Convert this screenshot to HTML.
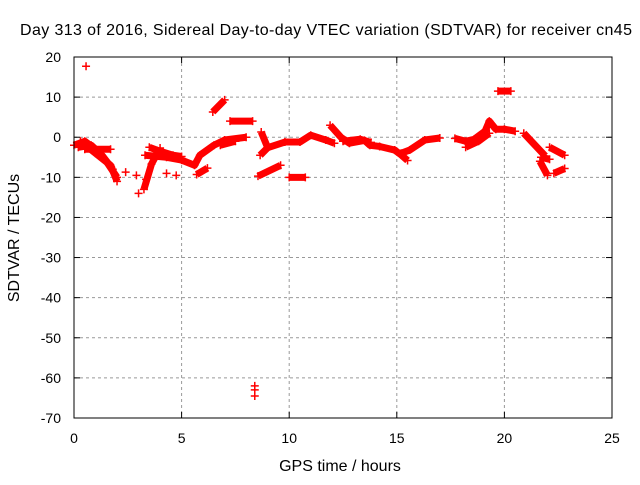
<!DOCTYPE html>
<html><head><meta charset="utf-8"><style>
body{margin:0;background:#fff}
svg text{font-family:"Liberation Sans",sans-serif;font-size:14px;fill:#000}
svg text.big{font-size:16px}
</style></head><body>
<svg id="c" width="640" height="480">
<rect width="640" height="480" fill="#fff"/>
<g id="grid"></g><g id="data"></g><g id="axes"></g>
<text class="big" x="326" y="35" text-anchor="middle" textLength="612">Day 313 of 2016, Sidereal Day-to-day VTEC variation (SDTVAR) for receiver cn45</text>
<text class="big" x="340" y="471" text-anchor="middle">GPS time / hours</text>
<text class="big" transform="translate(19,238) rotate(-90)" text-anchor="middle">SDTVAR / TECUs</text>
</svg>
<script>
const xTicks=[0,5,10,15,20,25];
const yTicks=[20,10,0,-10,-20,-30,-40,-50,-60,-70];
const seg1=[[0,-2],[0.5,-1],[1,-3],[1.5,-6],[2,-10]];
const seg2=[[0.3,-1],[1,-4],[1.7,-7],[2,-11]];
const seg3=[[0.5,-3],[1.7,-3]];
const seg4=[[3.25,-13],[3.6,-6.7],[4,-2.7]];
const seg5=[[3.3,-4.5],[4.3,-5],[5,-5.7],[5.6,-7],[5.85,-4.5],[6.5,-2],[7,-0.7],[8,0]];
const seg6=[[5.7,-9.3],[6.2,-7.7]];
const seg7=[[6.45,6.3],[7,9.3]];
const seg8=[[7.25,4],[8.3,4]];
const seg9=[[8.7,1.3],[9,-2.6],[9.8,-1.2],[10.5,-1.2],[11,0.5],[11.7,-0.7],[12.1,-1.5]];
const seg10=[[8.65,-4.5],[9,-2.6]];
const seg11=[[8.55,-9.7],[9.6,-7]];
const seg12=[[10,-10],[10.75,-10]];
const seg13=[[11.9,3],[12.4,0],[12.8,-1.5],[13.5,-0.8],[13.75,-2],[14.2,-2.3],[14.9,-3.2],[15.2,-4.4],[15.5,-5.8]];
const seg14=[[15.2,-4],[15.6,-3.2],[16.3,-0.7],[17,-0.2]];
const seg15=[[17.7,-0.3],[18.2,-1],[18.6,-0.5],[19.1,1.5],[19.3,4],[19.6,2],[20,2],[20.5,1.5]];
const seg16=[[18.3,-1.5],[18.9,0]];
const seg17=[[19.7,11.5],[20.3,11.5]];
const seg18=[[20.9,1],[21.9,-4.7]];
const seg19=[[21.65,-6],[22,-9.5]];
const seg20=[[22.1,-2.5],[22.8,-4.5]];
const seg21=[[22.3,-9],[22.8,-7.8]];
const seg22=[[21.7,-5],[22.1,-5.5]];
const seg23=[[3.5,-2.5],[4,-3.5],[4.6,-4.5],[5,-4.8]];
const seg24=[[18.2,-2.5],[18.8,-1],[19.3,1]];
const seg25=[[12.5,-1],[13.3,-0.5],[13.8,-1.3]];
const seg26=[[0.2,-2.5],[0.8,-2],[1.3,-4.5],[1.8,-8]];
const seg27=[[6.8,-2],[7.5,-1]];
const segments=[seg1,seg2,seg3,seg4,seg5,seg6,seg7,seg8,seg9,seg10,seg11,seg12,seg13,seg14,seg15,seg16,seg17,seg18,seg19,seg20,seg21,seg22,seg23,seg24,seg25,seg26,seg27];
const pts=[[0.56,17.7],[2.4,-8.7],[2.9,-9.5],[3.0,-14],[3.35,-10.5],[4.3,-9],[4.75,-9.5],[8.4,-62],[8.4,-63],[8.4,-64.5]];
const X0=74,X1=612,Y0=418,Y1=57;
const sx=h=>X0+h/25*(X1-X0);
const sy=v=>Y0-(v+70)/90*(Y0-Y1);
const NS="http://www.w3.org/2000/svg";
function mk(t,a,p){const e=document.createElementNS(NS,t);for(const k in a)e.setAttribute(k,a[k]);p.appendChild(e);return e;}
const G=document.getElementById('grid'),D=document.getElementById('data'),A=document.getElementById('axes');
xTicks.forEach(t=>{const x=sx(t);
 if(t>0&&t<25){const l=mk('line',{x1:x,x2:x,y1:Y1,y2:Y0,stroke:'#999','stroke-dasharray':'3,3'},G);
 
 }
 mk('line',{x1:x,x2:x,y1:Y0,y2:Y0-6,stroke:'#000'},A);mk('line',{x1:x,x2:x,y1:Y1,y2:Y1+6,stroke:'#000'},A);
 const tx=mk('text',{x:x,y:443,'text-anchor':'middle'},A);tx.textContent=t;
 
 });
yTicks.forEach(t=>{const y=sy(t);
 if(t>-70&&t<20){const l=mk('line',{x1:X0,x2:X1,y1:y,y2:y,stroke:'#999','stroke-dasharray':'3,3'},G);
 
 }
 mk('line',{x1:X0,x2:X0+6,y1:y,y2:y,stroke:'#000'},A);mk('line',{x1:X1,x2:X1-6,y1:y,y2:y,stroke:'#000'},A);
 const tx=mk('text',{x:61,y:y+5,'text-anchor':'end'},A);tx.textContent=t;
 
 });
const fr=mk('rect',{x:X0,y:Y1,width:X1-X0,height:Y0-Y1,fill:'none',stroke:'#000'},A);


function plus(h,v){const x=sx(h),y=sy(v);mk('path',{d:`M${x-4},${y}h8M${x},${y-4}v8`,stroke:'#f00','stroke-width':1.5},D);}
segments.forEach(s=>{const pl=mk('polyline',{points:s.map(p=>sx(p[0])+','+sy(p[1])).join(' '),fill:'none',stroke:'#f00','stroke-width':7,'stroke-linejoin':'round'},D);
 
 
 s.forEach(p=>plus(p[0],p[1]));});
pts.forEach(p=>plus(p[0],p[1]));
</script>
</body></html>
